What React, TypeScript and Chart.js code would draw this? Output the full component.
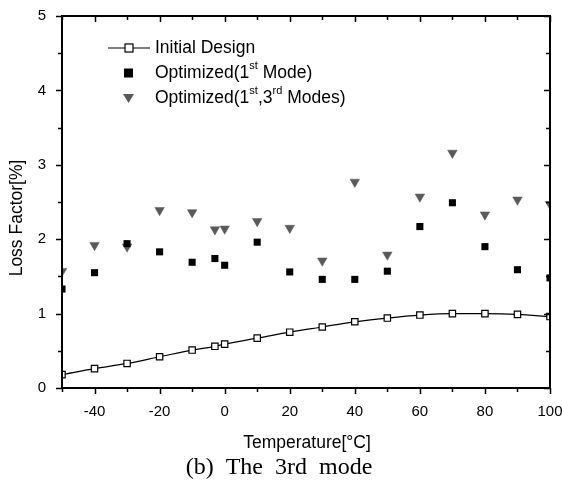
import React, { useEffect, useRef } from "react";
import { Chart, registerables } from "chart.js";

Chart.register(...registerables);

// Temperature points (°C)
const temperatures = [-50, -40, -30, -20, -10, -3, 0, 10, 20, 30, 40, 50, 60, 70, 80, 90, 100];
// Loss factor [%]
const initialDesign = [0.18, 0.26, 0.33, 0.42, 0.51, 0.56, 0.59, 0.67, 0.75, 0.82, 0.89, 0.94, 0.98, 1.0, 1.0, 0.99, 0.96];
const optimizedFirst = [1.33, 1.55, 1.94, 1.83, 1.69, 1.74, 1.65, 1.96, 1.56, 1.46, 1.46, 1.57, 2.17, 2.49, 1.9, 1.59, 1.48];
const optimizedFirstThird = [1.57, 1.92, 1.9, 2.39, 2.36, 2.13, 2.14, 2.24, 2.15, 1.71, 2.77, 1.79, 2.57, 3.16, 2.33, 2.53, 2.47];

const xMajorTicks = [-40, -20, 0, 20, 40, 60, 80, 100];
const yMajorTicks = [0, 1, 2, 3, 4, 5];

const FONT = "'Liberation Sans', Arial, sans-serif";
const TRI_COLOR = "#5a5a5a";

const toPoints = (ys: number[]) => temperatures.map((x, i) => ({ x, y: ys[i] }));

// Draws a text run where parts may be superscripts
function drawRich(ctx: CanvasRenderingContext2D, x: number, y: number, parts: [string, boolean][], size: number) {
  let cx = x;
  for (const [t, sup] of parts) {
    const s = sup ? Math.round(size * 0.6) : size;
    ctx.font = `${s}px ${FONT}`;
    ctx.fillText(t, cx, sup ? y - size * 0.4 : y);
    cx += ctx.measureText(t).width;
  }
}

const framePlugin = {
  id: "frame",
  afterDraw(chart: any) {
    const { ctx, chartArea: a, scales } = chart;
    const xs = scales.x;
    const ys = scales.y;
    ctx.save();
    ctx.strokeStyle = "#000";
    ctx.fillStyle = "#000";
    // frame
    ctx.lineWidth = 2;
    ctx.strokeRect(a.left, a.top, a.right - a.left, a.bottom - a.top);
    ctx.lineWidth = 1.5;
    // x ticks: bottom outward, top inward
    for (let v = -50; v <= 100; v += 10) {
      const px = Math.round(xs.getPixelForValue(v)) + 0.5;
      const major = v % 20 === 0;
      const len = major ? 6 : 4;
      ctx.beginPath();
      ctx.moveTo(px, a.bottom);
      ctx.lineTo(px, a.bottom + len);
      ctx.moveTo(px, a.top);
      ctx.lineTo(px, a.top + len);
      ctx.stroke();
    }
    // y ticks: left outward, right inward
    for (let v = 0; v <= 5; v += 0.5) {
      const py = Math.round(ys.getPixelForValue(v)) + 0.5;
      const major = Number.isInteger(v);
      const len = major ? 6 : 4;
      ctx.beginPath();
      ctx.moveTo(a.left, py);
      ctx.lineTo(a.left - len, py);
      ctx.moveTo(a.right, py);
      ctx.lineTo(a.right - len, py);
      ctx.stroke();
    }

    // legend
    const size = 17.5;
    const tx = 155;
    const rows = [48, 73, 98];
    ctx.textBaseline = "middle";
    ctx.textAlign = "left";
    // row 1: line with open square
    ctx.lineWidth = 1.2;
    ctx.beginPath();
    ctx.moveTo(108, rows[0]);
    ctx.lineTo(150, rows[0]);
    ctx.stroke();
    ctx.fillStyle = "#fff";
    ctx.fillRect(125, rows[0] - 4, 8, 8);
    ctx.strokeRect(125, rows[0] - 4, 8, 8);
    ctx.fillStyle = "#000";
    drawRich(ctx, tx, rows[0], [["Initial Design", false]], size);
    // row 2: filled square
    ctx.fillRect(124, rows[1] - 4.5, 9, 9);
    drawRich(ctx, tx, rows[1], [["Optimized(1", false], ["st", true], [" Mode)", false]], size);
    // row 3: down triangle
    ctx.fillStyle = TRI_COLOR;
    ctx.beginPath();
    ctx.moveTo(123, rows[2] - 4);
    ctx.lineTo(134, rows[2] - 4);
    ctx.lineTo(128.5, rows[2] + 5);
    ctx.closePath();
    ctx.fill();
    ctx.fillStyle = "#000";
    drawRich(ctx, tx, rows[2], [["Optimized(1", false], ["st", true], [",3", false], ["rd", true], [" Modes)", false]], size);

    // axis titles
    ctx.textAlign = "center";
    ctx.font = `17.5px ${FONT}`;
    ctx.fillText("Temperature[°C]", 307, 443);
    ctx.save();
    ctx.translate(17, 218);
    ctx.rotate(-Math.PI / 2);
    ctx.fillText("Loss Factor[%]", 0, 0);
    ctx.restore();

    // caption
    ctx.font = "24px 'Liberation Serif', 'Times New Roman', serif";
    ctx.fillText("(b)  The  3rd  mode", 279, 468);
    ctx.restore();
  },
};

export default function App() {
  const ref = useRef<HTMLCanvasElement | null>(null);

  useEffect(() => {
    document.body.style.margin = "0";
    const canvas = ref.current;
    if (!canvas) return;
    const chart = new Chart(canvas, {
      type: "scatter",
      data: {
        datasets: [
          {
            label: "Initial Design",
            data: toPoints(initialDesign),
            showLine: true,
            borderColor: "#000",
            borderWidth: 1.2,
            cubicInterpolationMode: "monotone",
            pointStyle: "rect",
            pointRadius: 4.5,
            pointBackgroundColor: "#fff",
            pointBorderColor: "#000",
            pointBorderWidth: 1.2,
            clip: 0,
          } as any,
          {
            label: "Optimized(1st Mode)",
            data: toPoints(optimizedFirst),
            pointStyle: "rect",
            pointRadius: 5,
            pointBackgroundColor: "#000",
            pointBorderColor: "#000",
            pointBorderWidth: 0,
            clip: 0,
          } as any,
          {
            label: "Optimized(1st,3rd Modes)",
            data: toPoints(optimizedFirstThird),
            pointStyle: "triangle",
            pointRotation: 180,
            pointRadius: 5.5,
            pointBackgroundColor: TRI_COLOR,
            pointBorderColor: TRI_COLOR,
            pointBorderWidth: 0.5,
            clip: 0,
          } as any,
        ],
      },
      options: {
        animation: false,
        responsive: false,
        layout: { padding: { top: 16, right: 12, left: 0, bottom: 0 } },
        plugins: { legend: { display: false }, tooltip: { enabled: false } },
        scales: {
          x: {
            type: "linear",
            min: -50,
            max: 100,
            afterBuildTicks: (s: any) => {
              s.ticks = xMajorTicks.map((value) => ({ value }));
            },
            afterFit: (s: any) => {
              s.height = 105;
              s.paddingLeft = 0;
              s.paddingRight = 0;
            },
            grid: { display: false },
            border: { display: false },
            ticks: { color: "#000", font: { family: FONT, size: 15 }, padding: 7 },
          },
          y: {
            type: "linear",
            min: 0,
            max: 5,
            afterBuildTicks: (s: any) => {
              s.ticks = yMajorTicks.map((value) => ({ value }));
            },
            afterFit: (s: any) => {
              s.width = 62;
              s.paddingTop = 0;
              s.paddingBottom = 0;
            },
            grid: { display: false },
            border: { display: false },
            ticks: { color: "#000", font: { family: FONT, size: 15 }, padding: 8 },
          },
        },
      },
      plugins: [framePlugin],
    });
    return () => chart.destroy();
  }, []);

  return (
    <div style={{ width: 562, height: 493, background: "#fff" }}>
      <canvas ref={ref} width={562} height={493} style={{ display: "block" }} />
    </div>
  );
}
